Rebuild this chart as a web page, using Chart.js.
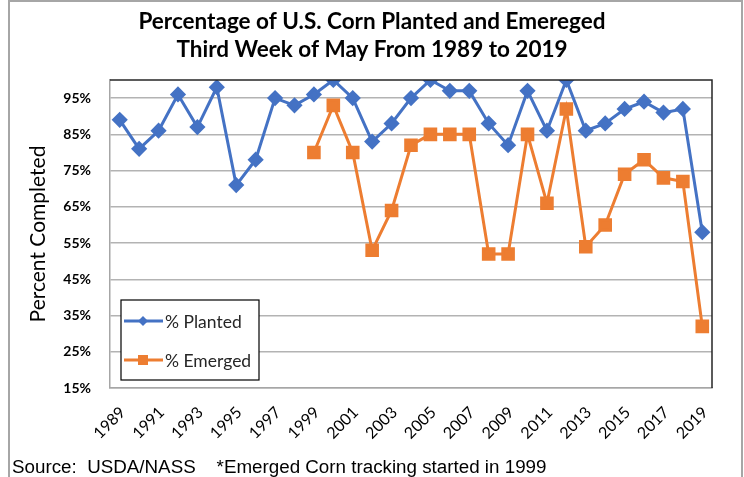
<!DOCTYPE html>
<html>
<head>
<meta charset="utf-8">
<script src="https://cdn.jsdelivr.net/npm/chart.js@4.4.1/dist/chart.umd.min.js"></script>
<style>
  html, body { margin: 0; padding: 0; background: #fff; }
  #wrap { position: relative; width: 744px; height: 477px; }
</style>
</head>
<body>
<div id="wrap"><canvas id="cornChart" width="744" height="477"></canvas></div>
<script>
// values
const years = [];
for (let y = 1989; y <= 2019; y++) years.push(String(y));

const planted = [89, 81, 86, 96, 87, 98, 71, 78, 95, 93,
                 96, 100, 95, 83, 88, 95, 100, 97, 97, 88,
                 82, 97, 86, 100, 86, 88, 92, 94, 91, 92, 58];

const emerged = [null, null, null, null, null, null, null, null, null, null,
                 80, 93, 80, 53, 64, 82, 85, 85, 85, 52,
                 52, 85, 66, 92, 54, 60, 74, 78, 73, 72, 32];

const yTicks = [15, 25, 35, 45, 55, 65, 75, 85, 95];

const titleLines = ["Percentage of U.S. Corn Planted and Emereged", "Third Week of May From 1989 to 2019"];
const footerText = "Source:  USDA/NASS    *Emerged Corn tracking started in 1999";

const BLUE = "#4472C4";
const ORANGE = "#ED7D31";

// title, frame, plot border, footer and the in-plot legend box
const decorPlugin = {
  id: "decor",
  afterDraw(chart) {
    const ctx = chart.ctx;
    const a = chart.chartArea;
    ctx.save();

    // outer frame
    ctx.strokeStyle = "#a6a6a6";
    ctx.lineWidth = 2;
    ctx.beginPath();
    ctx.moveTo(9, 480);
    ctx.lineTo(9, 1);
    ctx.lineTo(742, 1);
    ctx.lineTo(742, 480);
    ctx.stroke();

    // title, centred on the whole picture
    ctx.fillStyle = "#000";
    ctx.font = "bold 22.5px Lato, 'Open Sans', sans-serif";
    ctx.textAlign = "center";
    ctx.textBaseline = "middle";
    titleLines.forEach((t, i) => ctx.fillText(t, 372, 22 + i * 28));

    // plot area top/right border
    ctx.strokeStyle = "#262626";
    ctx.lineWidth = 1.5;
    ctx.beginPath();
    ctx.moveTo(a.left, a.top);
    ctx.lineTo(a.right, a.top);
    ctx.lineTo(a.right, a.bottom);
    ctx.stroke();

    // legend
    const lx = a.left + 11, ly = a.top + 220, lw = 138, lh = 80;
    ctx.fillStyle = "#fff";
    ctx.fillRect(lx, ly, lw, lh);
    ctx.strokeStyle = "#000";
    ctx.lineWidth = 1.2;
    ctx.strokeRect(lx, ly, lw, lh);

    const items = [
      { text: "% Planted", color: BLUE, shape: "diamond", y: ly + 21 },
      { text: "% Emerged", color: ORANGE, shape: "square", y: ly + 60 }
    ];
    items.forEach(it => {
      ctx.strokeStyle = it.color;
      ctx.lineWidth = 3;
      ctx.beginPath();
      ctx.moveTo(lx + 3, it.y);
      ctx.lineTo(lx + 42, it.y);
      ctx.stroke();
      ctx.fillStyle = it.color;
      const cx = lx + 22;
      ctx.beginPath();
      if (it.shape === "diamond") {
        ctx.moveTo(cx, it.y - 5);
        ctx.lineTo(cx + 5, it.y);
        ctx.lineTo(cx, it.y + 5);
        ctx.lineTo(cx - 5, it.y);
        ctx.closePath();
      } else {
        ctx.rect(cx - 5, it.y - 5, 10, 10);
      }
      ctx.fill();
      ctx.fillStyle = "#262626";
      ctx.font = "17.5px Lato, 'Open Sans', sans-serif";
      ctx.textBaseline = "middle";
      ctx.textAlign = "left";
      ctx.fillText(it.text, lx + 44, it.y + 1);
    });

    // footer
    ctx.fillStyle = "#000";
    ctx.font = "18.8px 'Liberation Sans', Arial, sans-serif";
    ctx.textBaseline = "alphabetic";
    ctx.textAlign = "left";
    ctx.fillText(footerText, 12, 473);

    ctx.restore();
  }
};

new Chart(document.getElementById("cornChart"), {
  type: "line",
  data: {
    labels: years,
    datasets: [
      {
        label: "% Planted",
        data: planted,
        borderColor: BLUE,
        backgroundColor: BLUE,
        borderWidth: 3,
        pointStyle: "rectRot",
        pointRadius: 6,
        pointHoverRadius: 6,
        tension: 0
      },
      {
        label: "% Emerged",
        data: emerged,
        borderColor: ORANGE,
        backgroundColor: ORANGE,
        borderWidth: 3,
        pointStyle: "rect",
        pointRadius: 7.5,
        pointHoverRadius: 7.5,
        tension: 0
      }
    ]
  },
  options: {
    responsive: false,
    animation: false,
    layout: { padding: { left: 0, right: 32, top: 80, bottom: 0 } },
    plugins: {
      legend: { display: false },
      tooltip: { enabled: false },
      title: { display: false }
    },
    scales: {
      x: {
        type: "category",
        offset: true,
        grid: { display: false, drawTicks: false },
        border: { display: true, color: "#a6a6a6", width: 1.5 },
        ticks: {
          autoSkip: false,
          maxRotation: 45,
          minRotation: 45,
          padding: 15,
          labelOffset: 3,
          color: "#000",
          font: { family: "Lato, 'Open Sans', sans-serif", size: 16 },
          callback: function (value, index) {
            return index % 2 === 0 ? this.getLabelForValue(value) : "";
          }
        },
        afterFit(scale) { scale.height = 89; }
      },
      y: {
        min: 15,
        max: 100,
        afterBuildTicks(scale) { scale.ticks = yTicks.map(v => ({ value: v })); },
        grid: { color: "#b3b3b3", lineWidth: 1.5, drawTicks: false },
        border: { display: true, color: "#a6a6a6", width: 1.5 },
        ticks: {
          padding: 19,
          color: "#000",
          font: { family: "Lato, 'Open Sans', sans-serif", size: 14, weight: "bold" },
          callback: v => v + "%"
        },
        title: {
          display: true,
          text: "Percent Completed",
          color: "#000",
          font: { family: "Lato, 'Open Sans', sans-serif", size: 21 },
          padding: { top: 26, bottom: 0 }
        },
        afterFit(scale) { scale.width = 110; }
      }
    }
  },
  plugins: [decorPlugin]
});
</script>
</body>
</html>
